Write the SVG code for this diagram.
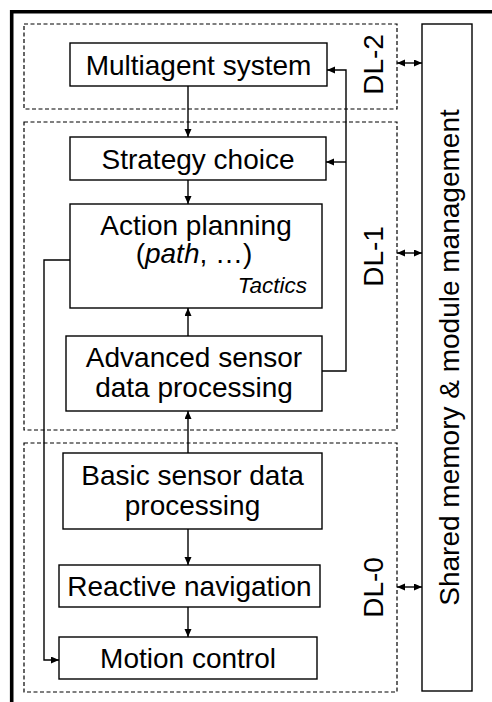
<svg xmlns="http://www.w3.org/2000/svg" width="492" height="702" viewBox="0 0 492 702">
  <style>
    .box { fill: #fff; stroke: #000; stroke-width: 1.4; }
    .layer { fill: none; stroke: #000; stroke-width: 1.2; stroke-dasharray: 4 2.5; }
    .wire { fill: none; stroke: #000; stroke-width: 1.4; }
    .t { font-family: "Liberation Sans", Arial, sans-serif; font-size: 28px; fill: #000; text-anchor: middle; }
    .it { font-style: italic; }
  </style>
  <defs>
    <marker id="ah" markerUnits="userSpaceOnUse" markerWidth="9" markerHeight="8" refX="8" refY="3.5" orient="auto-start-reverse">
      <path d="M0,0 L8,3.5 L0,7 z" fill="#000"/>
    </marker>
  </defs>
  <rect width="492" height="702" fill="#fff"/>

  <!-- outer frame -->
  <path d="M11.7,702 V11.7 H492" fill="none" stroke="#000" stroke-width="3.6"/>

  <!-- decision layers -->
  <g id="layer-dl2">
    <rect class="layer" x="24" y="24" width="373" height="85"/>
    <text class="t" transform="translate(382.5,64.5) rotate(-90)">DL-2</text>
  </g>
  <g id="layer-dl1">
    <rect class="layer" x="24" y="122" width="373" height="308"/>
    <text class="t" transform="translate(382.5,256.5) rotate(-90)">DL-1</text>
  </g>
  <g id="layer-dl0">
    <rect class="layer" x="24" y="443" width="373" height="249"/>
    <text class="t" transform="translate(382.5,587.5) rotate(-90)">DL-0</text>
  </g>

  <!-- shared memory column -->
  <g id="shared-memory">
    <rect class="box" x="422" y="24" width="50" height="667"/>
    <text class="t" transform="translate(458.5,357.5) rotate(-90)">Shared memory &amp; module management</text>
  </g>

  <!-- modules -->
  <g id="multiagent">
    <rect class="box" x="70" y="43" width="257" height="43"/>
    <text class="t" x="198.5" y="75">Multiagent system</text>
  </g>
  <g id="strategy">
    <rect class="box" x="70" y="137" width="256" height="43"/>
    <text class="t" x="198" y="168.5">Strategy choice</text>
  </g>
  <g id="action-planning">
    <rect class="box" x="70" y="204" width="252" height="104"/>
    <text class="t" x="196" y="235">Action planning</text>
    <text class="t" x="194" y="263">(<tspan class="it">path</tspan>, …)</text>
    <text class="t it" x="307" y="293" style="font-size:22.5px;text-anchor:end">Tactics</text>
  </g>
  <g id="advanced-sensor">
    <rect class="box" x="66" y="336" width="256" height="75"/>
    <text class="t" x="194" y="367">Advanced sensor</text>
    <text class="t" x="194" y="397">data processing</text>
  </g>
  <g id="basic-sensor">
    <rect class="box" x="63" y="453" width="259" height="76"/>
    <text class="t" x="192.5" y="485">Basic sensor data</text>
    <text class="t" x="192.5" y="515">processing</text>
  </g>
  <g id="reactive-nav">
    <rect class="box" x="59" y="565" width="261" height="42"/>
    <text class="t" x="189.5" y="595.5">Reactive navigation</text>
  </g>
  <g id="motion-control">
    <rect class="box" x="59" y="637" width="258" height="42"/>
    <text class="t" x="188" y="667.5">Motion control</text>
  </g>

  <!-- connectors -->
  <g id="connectors">
    <path class="wire" d="M188,86 V137" marker-end="url(#ah)"/>
    <path class="wire" d="M188,180 V204" marker-end="url(#ah)"/>
    <path class="wire" d="M188,336 V308" marker-end="url(#ah)"/>
    <path class="wire" d="M188,453 V411" marker-end="url(#ah)"/>
    <path class="wire" d="M188,529 V565" marker-end="url(#ah)"/>
    <path class="wire" d="M188,607 V637" marker-end="url(#ah)"/>
    <!-- feedback from advanced sensor processing to upper layers -->
    <path class="wire" d="M322,371 H346 V70 H327" marker-end="url(#ah)"/>
    <path class="wire" d="M346,162 H326" marker-end="url(#ah)"/>
    <!-- planning bypass to motion control -->
    <path class="wire" d="M70,260 H44 V660 H59" marker-end="url(#ah)"/>
    <!-- layer links to shared memory -->
    <path class="wire" d="M397,63 H422" marker-start="url(#ah)" marker-end="url(#ah)"/>
    <path class="wire" d="M397,253 H422" marker-start="url(#ah)" marker-end="url(#ah)"/>
    <path class="wire" d="M397,587 H422" marker-start="url(#ah)" marker-end="url(#ah)"/>
  </g>
</svg>
